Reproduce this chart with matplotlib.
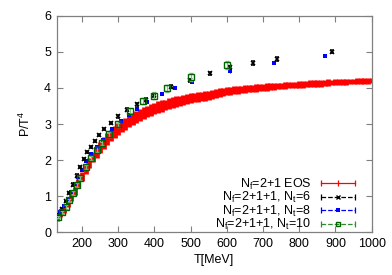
#!/usr/bin/env python3
"""
P/T^4 vs temperature: 2+1 EOS band compared with 2+1+1 lattice points
"""

import matplotlib.pyplot as plt
from matplotlib.lines import Line2D
from matplotlib.legend_handler import HandlerBase

# 2+1 flavour EOS
eos_T = [130, 140, 150, 160, 170, 180, 190, 200, 210, 220, 230, 240, 250, 260, 270,
         280, 290, 300, 310, 320, 330, 340, 350, 360, 370, 380, 390, 400, 410, 420,
         430, 440, 450, 460, 470, 480, 490, 500, 510, 520, 530, 540, 550, 560, 570,
         580, 590, 600, 610, 620, 630, 640, 650, 660, 670, 680, 690, 700, 710, 720,
         730, 740, 750, 760, 770, 780, 790, 800, 810, 820, 830, 840, 850, 860, 870,
         880, 890, 900, 910, 920, 930, 940, 950, 960, 970, 980, 990, 1000]
eos_p = [0.38, 0.48, 0.62, 0.78, 0.96, 1.15, 1.35, 1.55, 1.74, 1.92, 2.08, 2.22, 2.35, 2.47, 2.58,
         2.68, 2.77, 2.86, 2.94, 3.01, 3.08, 3.14, 3.20, 3.25, 3.30, 3.35, 3.39, 3.43, 3.47, 3.50,
         3.53, 3.56, 3.59, 3.62, 3.64, 3.67, 3.69, 3.71, 3.73, 3.75, 3.77, 3.78, 3.80, 3.82, 3.84,
         3.87, 3.89, 3.91, 3.92, 3.94, 3.95, 3.96, 3.97, 3.98, 3.99, 4.00, 4.01, 4.02, 4.03, 4.04,
         4.05, 4.05, 4.06, 4.07, 4.08, 4.08, 4.09, 4.10, 4.10, 4.11, 4.12, 4.12, 4.13, 4.13, 4.14,
         4.15, 4.15, 4.16, 4.16, 4.17, 4.17, 4.18, 4.18, 4.19, 4.19, 4.20, 4.20, 4.21]
eos_err = [0.06, 0.07, 0.08, 0.09, 0.10, 0.11, 0.12, 0.13, 0.13, 0.14, 0.14, 0.15, 0.15, 0.16, 0.16,
           0.16, 0.17, 0.17, 0.17, 0.17, 0.17, 0.17, 0.17, 0.17, 0.17, 0.16, 0.16, 0.16, 0.16, 0.16,
           0.15, 0.15, 0.15, 0.15, 0.14, 0.14, 0.14, 0.14, 0.13, 0.13, 0.13, 0.13, 0.12, 0.12, 0.12,
           0.12, 0.11, 0.11, 0.11, 0.11, 0.11, 0.10, 0.10, 0.10, 0.10, 0.10, 0.10, 0.10, 0.10, 0.10,
           0.10, 0.09, 0.09, 0.09, 0.09, 0.09, 0.09, 0.09, 0.09, 0.09, 0.09, 0.09, 0.09, 0.09, 0.09,
           0.09, 0.08, 0.08, 0.08, 0.08, 0.08, 0.08, 0.08, 0.08, 0.08, 0.08, 0.08, 0.08]

# 2+1+1, Nt=6
nt6_T = [135, 145, 155, 165, 175, 185, 195, 205, 215, 225, 235, 248, 262, 280, 300,
         325, 352, 376, 400, 447, 498, 553, 610, 672, 739, 889]
nt6_p = [0.47, 0.64, 0.85, 1.08, 1.32, 1.57, 1.81, 2.02, 2.22, 2.37, 2.52, 2.70, 2.87, 3.04, 3.21,
         3.40, 3.55, 3.68, 3.80, 4.04, 4.22, 4.41, 4.57, 4.70, 4.81, 5.01]
nt6_err = [0.02, 0.02, 0.02, 0.03, 0.03, 0.03, 0.03, 0.03, 0.03, 0.03, 0.03, 0.03, 0.03, 0.03, 0.03,
           0.04, 0.04, 0.04, 0.04, 0.04, 0.04, 0.04, 0.04, 0.05, 0.05, 0.05]

# 2+1+1, Nt=8
nt8_T = [130, 140, 150, 160, 170, 180, 190, 200, 212, 225, 240, 258, 282, 309, 330,
         351, 380, 422, 456, 503, 608, 729, 872]
nt8_p = [0.45, 0.56, 0.73, 0.91, 1.11, 1.33, 1.53, 1.73, 1.96, 2.16, 2.36, 2.57, 2.85, 3.09, 3.25,
         3.41, 3.60, 3.83, 3.99, 4.17, 4.46, 4.70, 4.90]
nt8_err = [0.02, 0.02, 0.02, 0.02, 0.03, 0.03, 0.03, 0.03, 0.03, 0.03, 0.03, 0.03, 0.03, 0.03, 0.03,
           0.03, 0.03, 0.03, 0.03, 0.04, 0.04, 0.04, 0.04]

# 2+1+1, Nt=10
nt10_T = [135, 145, 155, 165, 175, 185, 195, 210, 225, 240, 255, 275, 300, 332, 369,
          399, 436, 501, 601]
nt10_p = [0.42, 0.55, 0.70, 0.88, 1.08, 1.30, 1.50, 1.80, 2.05, 2.28, 2.48, 2.72, 3.00, 3.36, 3.64,
          3.79, 3.99, 4.31, 4.64]
nt10_err = [0.04, 0.04, 0.05, 0.05, 0.05, 0.06, 0.06, 0.06, 0.06, 0.07, 0.07, 0.07, 0.08, 0.08, 0.09,
            0.10, 0.10, 0.12, 0.12]

labels = [r'N$_\mathregular{f}$=2+1 EOS',
          r'N$_\mathregular{f}$=2+1+1, N$_\mathregular{t}$=6',
          r'N$_\mathregular{f}$=2+1+1, N$_\mathregular{t}$=8',
          r'N$_\mathregular{f}$=2+1+1, N$_\mathregular{t}$=10']


class GnuplotErrHandler(HandlerBase):
    """legend sample like gnuplot's errorbars key: bar, end caps, point in middle"""
    def create_artists(self, legend, orig_handle, xdescent, ydescent,
                       width, height, fontsize, trans):
        x0, x1 = -xdescent, width - xdescent
        y = height / 2 - ydescent
        c = orig_handle.get_color()
        bar = Line2D([x0, x1], [y, y], color=c, ls=orig_handle.get_linestyle(), lw=0.9)
        caps = Line2D([x0, x1], [y, y], color=c, ls='none', marker='|', ms=5, mew=0.9)
        pt = Line2D([(x0 + x1) / 2], [y], ls='none', marker=orig_handle.get_marker(),
                    ms=orig_handle.get_markersize(), mfc=orig_handle.get_markerfacecolor(),
                    mec=orig_handle.get_markeredgecolor(), mew=orig_handle.get_markeredgewidth())
        for a in (bar, caps, pt):
            a.set_transform(trans)
        return [bar, caps, pt]


plt.rcParams['font.family'] = 'Liberation Sans'
plt.rcParams['font.size'] = 9

fig = plt.figure(figsize=(3.92, 2.75), dpi=100)
ax = fig.add_axes([0.1446, 0.156, 0.8036, 0.786])

ax.errorbar(eos_T, eos_p, yerr=eos_err, fmt='none', ecolor='#ff0000',
            elinewidth=3.4, capsize=0, zorder=2)
ax.errorbar(nt6_T, nt6_p, yerr=nt6_err, fmt='x', color='black', ms=3.5, mew=1.1,
            elinewidth=0.7, capsize=1.2, zorder=4)
ax.errorbar(nt8_T, nt8_p, yerr=nt8_err, fmt='s', color='#0000ff', ms=3.2, mew=0,
            elinewidth=0.7, capsize=1.2, zorder=3)
ax.errorbar(nt10_T, nt10_p, yerr=nt10_err, fmt='s', mfc='none', mec='#006400', ms=4,
            mew=1.0, ecolor='#7fbf7f', elinewidth=0.9, capsize=1.5, zorder=5)

ax.set_xlim(130, 1000)
ax.set_ylim(0, 6)
ax.set_xticks([200, 300, 400, 500, 600, 700, 800, 900, 1000])
ax.set_yticks([0, 1, 2, 3, 4, 5, 6])
ax.tick_params(direction='in', top=True, right=True, length=4, width=0.8,
               color='#808080', labelsize=9, pad=4)
for s in ax.spines.values():
    s.set_color('#808080')
    s.set_linewidth(0.9)

ax.set_xlabel('T[MeV]', fontsize=9, labelpad=3)
ax.set_ylabel(r'P/T$^\mathregular{4}$', fontsize=9, labelpad=8)

handles = [Line2D([], [], color='#ff0000', ls='-', marker='|', ms=5, mew=0.9),
           Line2D([], [], color='black', ls=(0, (1.5, 1.5)), marker='x', ms=3.5, mew=1.0),
           Line2D([], [], color='#0000ff', ls=(0, (1, 1)), marker='s', ms=3, mew=0),
           Line2D([], [], color='#2e8b2e', ls=(0, (3, 1.5)), marker='s', ms=3.5,
                  mfc='none', mec='#006400', mew=1.0)]

leg = ax.legend(handles, labels, loc='lower right', bbox_to_anchor=(0.975, -0.04),
                markerfirst=False, handlelength=2.75, handletextpad=0.75,
                labelspacing=-0.14, frameon=False, fontsize=9, borderaxespad=0.3,
                handler_map={Line2D: GnuplotErrHandler()})

fig.savefig('out.png', dpi=100)
